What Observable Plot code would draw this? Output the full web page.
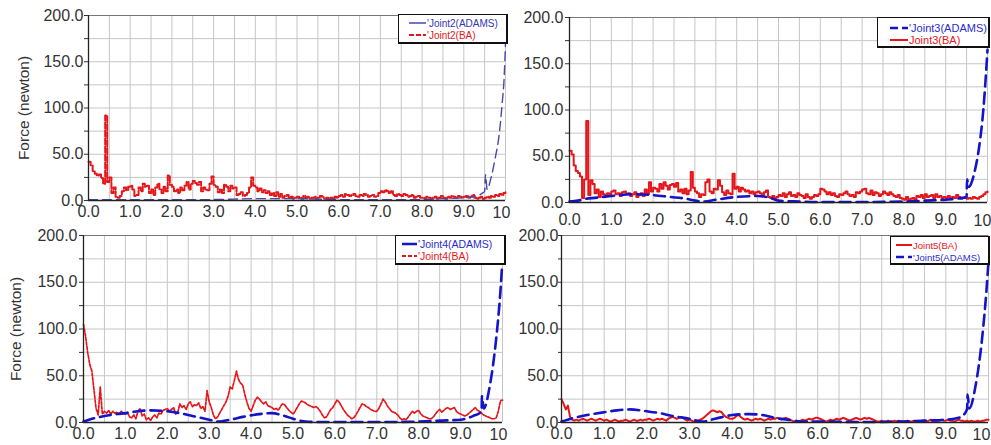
<!DOCTYPE html>
<html><head><meta charset="utf-8">
<script src="https://cdn.jsdelivr.net/npm/d3@7"></script>
<script src="https://cdn.jsdelivr.net/npm/@observablehq/plot@0.6"></script>
<style>
body{margin:0;background:#fff;}
#wrap{position:relative;width:991px;height:445px;overflow:hidden;font-family:"Liberation Sans",Arial,sans-serif;}
.panel{position:absolute;}
.panel svg{overflow:visible;}
.legend{position:absolute;background:#fff;border:1px solid #111;border-right-width:2px;border-bottom-width:2px;box-sizing:border-box;font-family:"Liberation Sans",Arial,sans-serif;}
.legend .row{position:absolute;display:flex;align-items:center;white-space:nowrap;height:11px;}
</style></head><body><div id="wrap"></div>
<script>
// ---------- data ----------
const tBA = d3.range(201).map(i => +(i * 0.05).toFixed(2)); // sample times of BA series (s)
const xTicks = [0,1,2,3,4,5,6,7,8,9,10];
const yTicks = [0,25,50,75,100,125,150,175,200];
const yLabel = "Force (newton)";

const joint2BA = [
 42,38,32,29,27,28,24,18,92,20,25,8,14,4,3,5,10,14,11,15,
 16,12,5,6,14,10,18,15,16,8,12,6,14,18,12,8,15,10,27,17,
 15,10,12,8,14,11,16,20,12,18,21,19,17,20,10,14,12,11,18,26,
 17,15,9,12,8,17,15,10,16,13,14,6,7,9,5,6,8,14,25,16,
 14,10,13,9,11,8,10,6,8,5,9,4,7,3,5,6,3,4,2,3,
 4,3,2,5,3,4,2,3,4,2,3,5,4,2,3,1,3,2,4,3,
 5,6,4,7,6,5,6,7,5,4,6,5,7,6,4,5,6,4,5,8,
 10,9,11,10,8,10,6,5,7,6,5,7,6,4,5,6,3,4,5,3,
 3,2,4,3,2,3,4,2,3,5,3,2,4,3,5,4,3,5,4,3,
 4,5,3,4,6,3,2,3,4,2,3,4,3,5,4,6,5,7,6,8,
 9];
const joint2AdamsT = [0,0.5,1,2,3,4,5,6,7,8,8.5,9,9.3,9.45,9.5,9.52,9.56,9.65,9.75,9.85,9.92,9.97,10];
const joint2AdamsV = [1,1,1,1,1,2,2,1,1,1,2,3,5,8,10,28,12,24,45,72,105,135,170];

const joint3BA = [
 56,52,40,34,32,28,5,25,88,8,24,20,10,14,6,12,9,7,10,9,
 12,13,9,10,7,11,12,9,10,7,9,11,6,8,10,7,14,9,22,12,
 16,15,12,20,15,22,18,14,19,20,17,21,12,14,10,15,9,13,33,16,
 12,10,6,9,8,22,25,12,10,15,14,24,18,11,8,13,10,9,31,15,
 17,12,16,14,12,13,10,12,9,11,12,10,8,11,13,6,5,7,4,6,
 8,7,10,6,9,11,7,8,6,10,8,7,5,9,6,4,6,8,7,9,
 15,14,12,9,11,8,10,7,6,9,8,10,12,9,7,8,6,11,10,12,
 14,15,10,9,13,8,11,10,7,9,12,10,8,11,9,7,6,8,5,4,
 3,6,2,4,5,3,7,6,8,5,9,6,7,8,5,9,6,7,5,6,
 5,7,4,6,5,8,6,4,5,6,4,5,4,6,5,4,6,7,9,11,
 12];
const joint3AdamsT = [0,0.2,0.4,0.6,1.0,1.5,2.0,2.4,2.8,3.0,3.2,3.5,4.0,4.5,4.8,5.0,5.5,6,7,8,8.5,9,9.4,9.5,9.51,9.55,9.7,9.8,9.9,9.95,10];
const joint3AdamsV = [1,2,4,5,7,9,8,6,4,2,1,3,6,7,5,2,1,0.5,0.5,1,2,3,5,6,25,17,35,60,100,130,165];

const joint4BA = [
 105,92,75,62,55,35,15,8,38,9,12,10,13,9,12,10,11,9,12,10,
 9,11,6,5,8,4,12,15,7,9,3,5,2,6,8,5,10,9,13,14,
 15,12,14,16,9,11,20,16,18,14,20,22,17,19,18,21,15,17,12,34,
 22,16,8,4,6,10,14,18,22,28,38,36,45,55,46,42,40,30,22,15,
 12,18,24,27,25,22,20,22,18,17,16,14,15,13,17,20,19,16,13,11,
 9,12,16,20,23,22,21,19,18,17,16,17,15,12,8,5,6,10,14,16,
 20,24,22,18,14,11,8,6,4,5,8,12,16,20,19,17,16,14,13,12,
 12,15,20,25,22,18,15,12,11,10,8,5,3,4,3,6,9,12,10,12,
 13,9,7,6,5,4,4,6,9,12,14,11,13,15,16,14,15,16,12,10,
 9,8,7,8,10,12,14,16,13,12,10,8,7,6,5,4,4,5,12,23,
 24];
const joint4AdamsT = [0,0.3,0.5,0.8,1.0,1.3,1.6,2.0,2.3,2.6,3.0,3.2,3.5,3.8,4.2,4.5,4.8,5.0,5.3,5.6,6,7,8,8.5,9.0,9.3,9.45,9.5,9.51,9.55,9.7,9.85,9.95,10];
const joint4AdamsV = [1,5,7,9,10,12,13,12,10,7,3,1,3,6,9,10,7,4,1,0.5,0.5,0.5,1,2,3,7,10,12,28,15,40,90,140,175];

const joint5BA = [
 25,20,14,18,6,3,2,3,2,3,4,3,2,3,4,3,2,3,4,3,
 2,3,2,1,2,3,2,1,2,2,3,2,1,2,3,2,2,3,2,3,
 3,4,3,2,3,4,3,4,3,2,4,5,6,5,4,5,6,5,3,2,
 3,2,1,1,2,3,4,6,8,10,12,13,12,11,12,11,8,6,5,4,
 4,5,7,8,6,4,3,4,3,2,3,4,3,4,3,2,3,4,3,4,
 4,5,4,3,4,5,4,3,2,1,2,1,2,3,2,3,4,3,4,5,
 5,4,3,2,1,2,3,2,3,4,3,4,5,4,3,2,3,4,5,4,
 3,4,5,4,5,4,3,2,1,1,2,1,1,2,1,1,2,1,2,1,
 1,1,2,1,1,2,1,2,1,2,2,1,2,3,2,1,2,2,3,2,
 2,3,2,2,1,2,3,2,2,1,2,1,2,1,1,2,1,2,2,3,
 3];
const joint5AdamsT = [0,0.3,0.6,1.0,1.3,1.6,2.0,2.3,2.6,3.0,3.3,3.6,4.0,4.4,4.7,5.0,5.3,5.6,6,7,8,8.5,9.0,9.3,9.45,9.5,9.51,9.55,9.7,9.85,9.95,10];
const joint5AdamsV = [1,5,8,11,13,14,12,10,7,4,1,4,8,9,8,5,3,1,1,0.5,1,2,3,5,10,15,30,15,40,90,140,172];

const legendLabels = [
  ["'Joint2(ADAMS)", "'Joint2(BA)"],
  ["'Joint3(ADAMS)", "Joint3(BA)"],
  ["'Joint4(ADAMS)", "'Joint4(BA)"],
  ["Joint5(BA)", "'Joint5(ADAMS)"]
];

// ---------- styles / layout ----------
const RED = "#e4161a", BLUE = "#1414c8", NAVY = "#4848a8";
const FONT = "'Liberation Sans', Arial, sans-serif";
const xGrid = d3.range(0, 10.001, 0.5);

const panels = [
  {left:0, top:0, width:520, height:222, mt:15, mb:22, ml:88, mr:15, xPad:5, yTick:4, yPad:1, ylab:-64, tenDx:-4,
   ba:joint2BA, at:joint2AdamsT, av:joint2AdamsV, baCurve:"step-after",
   baStyle:{stroke:RED, strokeWidth:2, strokeDasharray:"6,2"},
   adStyle:{stroke:NAVY, strokeWidth:1.4, strokeDasharray:"9,5"},
   legend:{x:398, y:14, w:110, h:30, sx:10, rows:[8,20], fs:10, sw:17,
     items:[{c:NAVY, w:1.5, d:"", tc:"#3535b0"}, {c:RED, w:2, d:"5,2", tc:RED}]}},
  {left:520, top:0, width:471, height:230, mt:17, mb:28, ml:49, mr:4, xPad:11, yTick:4, yPad:2, ylab:null, tenDx:-5,
   ba:joint3BA, at:joint3AdamsT, av:joint3AdamsV, baCurve:"step-after",
   baStyle:{stroke:RED, strokeWidth:2},
   adStyle:{stroke:BLUE, strokeWidth:2.6, strokeDasharray:"11,6"},
   legend:{x:877, y:17, w:113, h:31, sx:12, rows:[10,22], fs:11, sw:18,
     items:[{c:BLUE, w:2.5, d:"8,4", tc:"#2a2ad0"}, {c:RED, w:2, d:"", tc:RED}]}},
  {left:0, top:222, width:520, height:223, mt:13, mb:23, ml:83, mr:18, xPad:5, yTick:4, yPad:2, ylab:-67, tenDx:-4,
   ba:joint4BA, at:joint4AdamsT, av:joint4AdamsV, baCurve:"linear",
   baStyle:{stroke:RED, strokeWidth:1.7, strokeDasharray:"3,1.5"},
   adStyle:{stroke:BLUE, strokeWidth:2.6, strokeDasharray:"11,6"},
   legend:{x:395, y:235, w:111, h:30, sx:6, rows:[8,20], fs:10.5, sw:15,
     items:[{c:BLUE, w:2.5, d:"", tc:"#2a2ad0"}, {c:RED, w:2, d:"4,2", tc:RED}]}},
  {left:520, top:222, width:471, height:223, mt:13, mb:23, ml:41, mr:3, xPad:5, yTick:3, yPad:0, ylab:null, tenDx:-7,
   ba:joint5BA, at:joint5AdamsT, av:joint5AdamsV, baCurve:"linear",
   baStyle:{stroke:RED, strokeWidth:2},
   adStyle:{stroke:BLUE, strokeWidth:2.6, strokeDasharray:"11,6"},
   legend:{x:890, y:236, w:100, h:29, sx:5, rows:[8,20], fs:9.5, sw:16,
     items:[{c:RED, w:2, d:"", tc:RED}, {c:BLUE, w:2.5, d:"8,4", tc:"#2a2ad0"}]}}
];

const wrap = document.getElementById("wrap");

panels.forEach((p, k) => {
  const baData = tBA.map((t, i) => ({t, v: p.ba[i]}));
  const adData = p.at.map((t, i) => ({t, v: p.av[i]}));
  const marks = [
    Plot.ruleX(xGrid, {x: d => d, stroke: "#c6c6c6", strokeWidth: 1}),
    Plot.ruleY(yTicks, {y: d => d, stroke: "#c6c6c6", strokeWidth: 1}),
    Plot.ruleY([200], {y: d => d, stroke: "#777", strokeWidth: 1}),
    Plot.line(baData, {x: "t", y: "v", curve: p.baCurve, ...p.baStyle}),
    Plot.line(adData, {x: "t", y: "v", curve: "monotone-x", ...p.adStyle}),
    Plot.ruleX([0], {x: d => d, stroke: "#222", strokeWidth: 1.3}),
    Plot.ruleY([0], {y: d => d, stroke: "#222", strokeWidth: 1.3}),
    Plot.text([10], {x: d => d, frameAnchor: "bottom", lineAnchor: "top", dy: p.xPad + 1, dx: p.tenDx,
      text: d => String(d), fontSize: 16, fill: "#333"})
  ];
  if (p.ylab !== null) {
    marks.push(Plot.text([yLabel], {frameAnchor: "left", dx: p.ylab, rotate: -90, text: d => d,
      fontSize: 15.5, fill: "#333", textAnchor: "middle", lineAnchor: "middle"}));
  }
  const chart = Plot.plot({
    width: p.width, height: p.height,
    marginTop: p.mt, marginBottom: p.mb, marginLeft: p.ml, marginRight: p.mr,
    style: {fontFamily: FONT, fontSize: "16px", color: "#333", background: "transparent"},
    x: {domain: [0, 10], ticks: xTicks, tickFormat: d => d === 10 ? "" : d.toFixed(1), tickSize: 0, tickPadding: p.xPad, label: null},
    y: {domain: [0, 200], ticks: yTicks, tickFormat: d => d % 50 === 0 ? d.toFixed(1) : "", tickSize: p.yTick, tickPadding: p.yPad, label: null},
    marks
  });
  const holder = document.createElement("div");
  holder.className = "panel";
  Object.assign(holder.style, {left: p.left + "px", top: p.top + "px", width: p.width + "px", height: p.height + "px"});
  holder.appendChild(chart);
  wrap.appendChild(holder);

  // legend
  const L = p.legend;
  const box = document.createElement("div");
  box.className = "legend";
  Object.assign(box.style, {left: L.x + "px", top: L.y + "px", width: L.w + "px", height: L.h + "px"});
  L.items.forEach((it, i) => {
    const row = document.createElement("div");
    row.className = "row";
    row.style.left = L.sx + "px";
    row.style.top = (L.rows[i] - 5.5) + "px";
    row.innerHTML = `<svg width="${L.sw}" height="8" style="display:block"><line x1="0" x2="${L.sw}" y1="4" y2="4" stroke="${it.c}" stroke-width="${it.w}" ${it.d ? `stroke-dasharray="${it.d}"` : ""}/></svg>` +
      `<span style="color:${it.tc};font-size:${L.fs}px;line-height:11px;margin-left:1px">${legendLabels[k][i]}</span>`;
    box.appendChild(row);
  });
  wrap.appendChild(box);
});
</script>
</body></html>
